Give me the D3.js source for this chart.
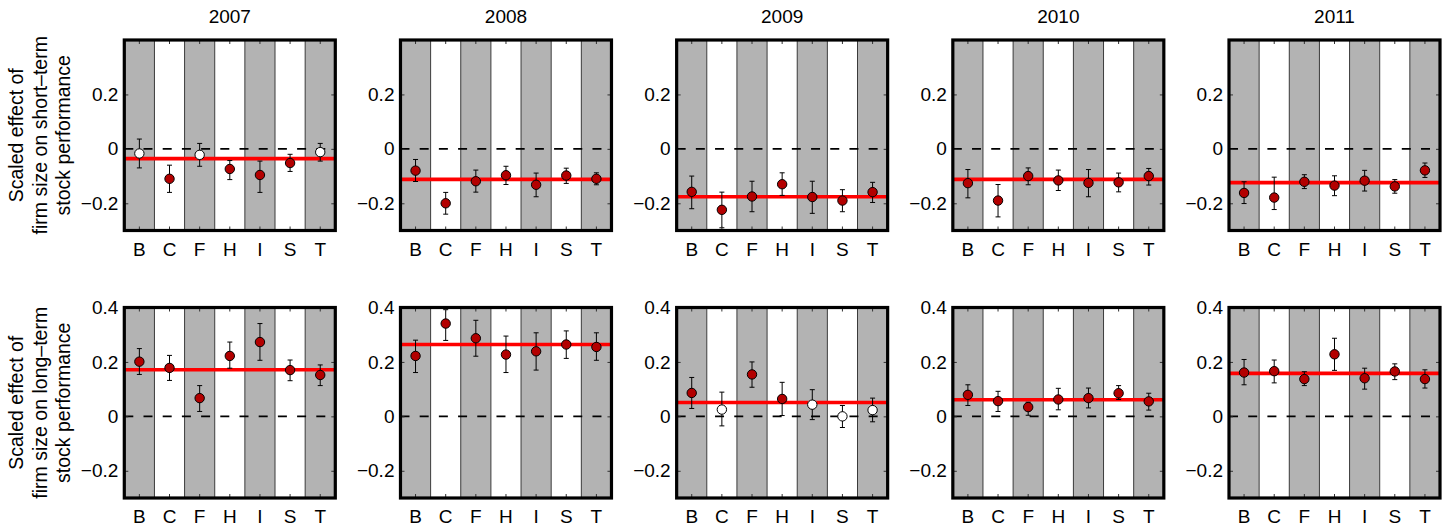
<!DOCTYPE html>
<html>
<head>
<meta charset="utf-8">
<script src="https://cdn.jsdelivr.net/npm/d3@7"></script>
<style>
  html, body { margin: 0; padding: 0; background: #fff; }
  svg { display: block; font-family: 'Liberation Sans', Arial, sans-serif; }
</style>
</head>
<body>
<svg id="chart" width="1449" height="531"></svg>
<script>
// chart values
const years = ['2007', '2008', '2009', '2010', '2011'];
const categories = ['B', 'C', 'F', 'H', 'I', 'S', 'T'];

// row 1: short-term stock performance
const shortEst = [
  [-0.017, -0.110, -0.022, -0.074, -0.096, -0.052, -0.012],
  [-0.080, -0.200, -0.119, -0.097, -0.132, -0.098, -0.110],
  [-0.158, -0.224, -0.175, -0.130, -0.177, -0.190, -0.159],
  [-0.126, -0.190, -0.100, -0.116, -0.125, -0.123, -0.100],
  [-0.162, -0.179, -0.121, -0.135, -0.117, -0.138, -0.079]
];
const shortLow = [
  [-0.070, -0.160, -0.064, -0.113, -0.160, -0.083, -0.045],
  [-0.120, -0.240, -0.159, -0.131, -0.176, -0.127, -0.132],
  [-0.220, -0.290, -0.231, -0.171, -0.237, -0.231, -0.197],
  [-0.180, -0.250, -0.132, -0.153, -0.176, -0.158, -0.133],
  [-0.201, -0.223, -0.146, -0.172, -0.155, -0.163, -0.105]
];
const shortHigh = [
  [0.036, -0.060, 0.020, -0.043, -0.045, -0.020, 0.020],
  [-0.039, -0.160, -0.078, -0.064, -0.089, -0.071, -0.088],
  [-0.100, -0.159, -0.119, -0.088, -0.119, -0.150, -0.123],
  [-0.076, -0.131, -0.070, -0.078, -0.076, -0.089, -0.072],
  [-0.121, -0.104, -0.095, -0.099, -0.079, -0.113, -0.052]
];
const shortOpen = [
  [1, 0, 1, 0, 0, 0, 1],
  [0, 0, 0, 0, 0, 0, 0],
  [0, 0, 0, 0, 0, 0, 0],
  [0, 0, 0, 0, 0, 0, 0],
  [0, 0, 0, 0, 0, 0, 0]
];
const shortMean = [-0.036, -0.112, -0.176, -0.112, -0.124];

// row 2: long-term stock performance
const longEst = [
  [0.201, 0.178, 0.067, 0.222, 0.273, 0.170, 0.152],
  [0.222, 0.341, 0.287, 0.227, 0.239, 0.264, 0.255],
  [0.086, 0.025, 0.154, 0.064, 0.043, 0.000, 0.023],
  [0.079, 0.056, 0.034, 0.062, 0.067, 0.085, 0.055],
  [0.161, 0.166, 0.137, 0.228, 0.140, 0.165, 0.137]
];
const longLow = [
  [0.154, 0.132, 0.018, 0.177, 0.206, 0.131, 0.113],
  [0.161, 0.279, 0.221, 0.161, 0.170, 0.213, 0.206],
  [0.029, -0.035, 0.107, 0.003, -0.012, -0.041, -0.020],
  [0.040, 0.018, 0.004, 0.024, 0.031, 0.062, 0.023],
  [0.116, 0.123, 0.113, 0.169, 0.100, 0.135, 0.104]
];
const longHigh = [
  [0.249, 0.224, 0.113, 0.273, 0.341, 0.207, 0.189],
  [0.280, 0.392, 0.353, 0.295, 0.307, 0.314, 0.307],
  [0.143, 0.089, 0.200, 0.125, 0.098, 0.040, 0.067],
  [0.116, 0.092, 0.052, 0.103, 0.104, 0.113, 0.085],
  [0.209, 0.207, 0.164, 0.287, 0.177, 0.193, 0.171]
];
const longOpen = [
  [0, 0, 0, 0, 0, 0, 0],
  [0, 0, 0, 0, 0, 0, 0],
  [0, 1, 0, 0, 1, 1, 1],
  [0, 0, 0, 0, 0, 0, 0],
  [0, 0, 0, 0, 0, 0, 0]
];
const longMean = [0.171, 0.264, 0.051, 0.061, 0.158];

const rowLabels = [
  ['Scaled effect of', 'firm size on short\u2013term', 'stock performance'],
  ['Scaled effect of', 'firm size on long\u2013term', 'stock performance']
];
const rowTicks = [[-0.2, 0, 0.2], [-0.2, 0, 0.2, 0.4]];

const rows = [
  { est: shortEst, low: shortLow, high: shortHigh, open: shortOpen, mean: shortMean },
  { est: longEst, low: longLow, high: longHigh, open: longOpen, mean: longMean }
];

// layout
const fontSize = 19;
const labelSize = 19.5;
const pw = 211, ph = 190.5;
const panelX = d3.scaleLinear().domain([0, 4]).range([124.3, 1229]);
const rowY = [40, 307.5];

const svg = d3.select('#chart');

const x = d3.scaleBand().domain(categories).range([0, pw]);
const y = d3.scaleLinear().domain([-0.3, 0.4]).range([ph, 0]);
const fmt = d => (d === 0 ? '0' : d3.format('.1f')(d));

rows.forEach((row, r) => {
  // row label
  const lab = svg
    .append('text')
    .attr('transform', `translate(46.5,${rowY[r] + ph / 2}) rotate(-90)`)
    .attr('text-anchor', 'middle')
    .style('font-size', labelSize + 'px')
    .attr('fill', '#000');
  rowLabels[r].forEach((line, k) => {
    lab
      .append('tspan')
      .attr('x', 0)
      .attr('y', (k - 1) * 23.5)
      .text(line);
  });

  years.forEach((year, i) => {
    const g = svg
      .append('g')
      .attr('transform', `translate(${panelX(i)},${rowY[r]})`);

    // alternating bands
    g.selectAll('.band')
      .data(categories)
      .enter()
      .append('rect')
      .attr('x', d => x(d))
      .attr('y', 0)
      .attr('width', x.bandwidth())
      .attr('height', ph)
      .attr('fill', (d, k) => (k % 2 === 0 ? '#b3b3b3' : '#ffffff'));

    g.selectAll('.sep')
      .data(categories.slice(1))
      .enter()
      .append('line')
      .attr('x1', d => x(d))
      .attr('x2', d => x(d))
      .attr('y1', 0)
      .attr('y2', ph)
      .attr('stroke', '#3a3a3a')
      .attr('stroke-width', 1);

    // zero line
    g.append('line')
      .attr('x1', 0)
      .attr('x2', pw)
      .attr('y1', y(0))
      .attr('y2', y(0))
      .attr('stroke', '#000')
      .attr('stroke-width', 1.6)
      .attr('stroke-dasharray', '9,10.2');

    // overall mean
    g.append('line')
      .attr('x1', 0)
      .attr('x2', pw)
      .attr('y1', y(row.mean[i]))
      .attr('y2', y(row.mean[i]))
      .attr('stroke', '#ff0000')
      .attr('stroke-width', 3.6);

    const pts = categories.map((c, k) => ({
      c: c,
      v: row.est[i][k],
      lo: row.low[i][k],
      hi: row.high[i][k],
      open: row.open[i][k]
    }));

    const eb = g.selectAll('.eb').data(pts).enter().append('g');
    const cx = d => x(d.c) + x.bandwidth() / 2;
    eb.append('line')
      .attr('x1', cx)
      .attr('x2', cx)
      .attr('y1', d => y(d.lo))
      .attr('y2', d => y(d.hi))
      .attr('stroke', '#000')
      .attr('stroke-width', 1);
    ['lo', 'hi'].forEach(key => {
      eb.append('line')
        .attr('x1', d => cx(d) - 2.5)
        .attr('x2', d => cx(d) + 2.5)
        .attr('y1', d => y(d[key]))
        .attr('y2', d => y(d[key]))
        .attr('stroke', '#000')
        .attr('stroke-width', 1);
    });

    g.selectAll('.dot')
      .data(pts)
      .enter()
      .append('circle')
      .attr('cx', cx)
      .attr('cy', d => y(d.v))
      .attr('r', 4.7)
      .attr('fill', d => (d.open ? '#ffffff' : '#b30000'))
      .attr('stroke', '#000')
      .attr('stroke-width', 1);

    // axes: inward ticks
    const axL = g
      .append('g')
      .call(
        d3.axisLeft(y).tickValues(rowTicks[r]).tickSize(-4).tickPadding(6).tickFormat(fmt)
      );
    const axR = g
      .append('g')
      .attr('transform', `translate(${pw},0)`)
      .call(d3.axisRight(y).tickValues(rowTicks[r]).tickSize(-4).tickFormat(''));
    const axB = g
      .append('g')
      .attr('transform', `translate(0,${ph})`)
      .call(d3.axisBottom(x).tickSize(-4).tickPadding(12));
    const axT = g
      .append('g')
      .call(d3.axisTop(x).tickSize(-4).tickFormat(''));
    [axL, axR, axB, axT].forEach(a => {
      a.select('.domain').remove();
      a.selectAll('.tick line').attr('stroke', '#333');
      a.selectAll('text')
        .style('font-size', fontSize + 'px')
        .style('font-family', "'Liberation Sans', Arial, sans-serif")
        .attr('fill', '#000');
    });

    // frame
    g.append('rect')
      .attr('x', 0)
      .attr('y', 0)
      .attr('width', pw)
      .attr('height', ph)
      .attr('fill', 'none')
      .attr('stroke', '#000')
      .attr('stroke-width', 3.2);

    if (r === 0) {
      g.append('text')
        .attr('x', pw / 2)
        .attr('y', -17)
        .attr('text-anchor', 'middle')
        .style('font-size', fontSize + 'px')
        .text(year);
    }
  });
});
</script>
</body>
</html>
